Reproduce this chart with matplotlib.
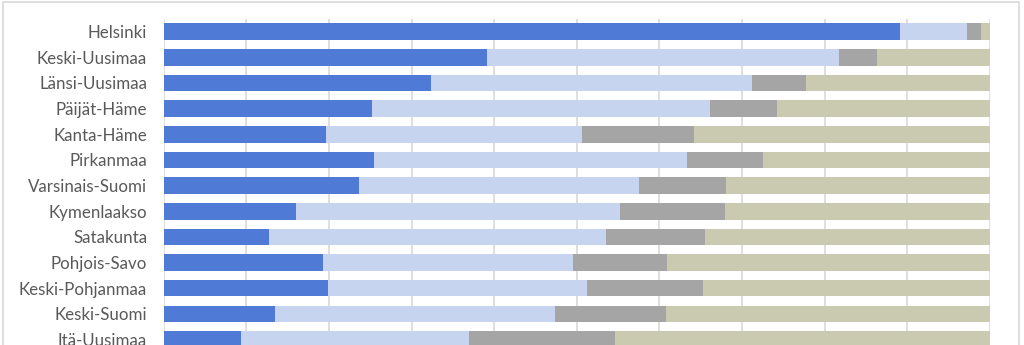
import numpy as np
import matplotlib.pyplot as plt
from matplotlib.patches import Rectangle

regions = ['Helsinki', 'Keski-Uusimaa', 'Länsi-Uusimaa', 'Päijät-Häme', 'Kanta-Häme',
           'Pirkanmaa', 'Varsinais-Suomi', 'Kymenlaakso', 'Satakunta', 'Pohjois-Savo',
           'Keski-Pohjanmaa', 'Keski-Suomi', 'Itä-Uusimaa']

# shares in percent, four stacked parts per region
part1 = [89.1, 39.1, 32.4, 25.2, 19.6, 25.4, 23.6, 16.0, 12.7, 19.3, 19.9, 13.5, 9.4]
part2 = [8.2, 42.7, 38.8, 40.9, 31.0, 38.0, 34.0, 39.2, 40.8, 30.2, 31.4, 33.9, 27.6]
part3 = [1.6, 4.5, 6.5, 8.2, 13.6, 9.2, 10.5, 12.8, 12.0, 11.4, 14.0, 13.4, 17.6]
part4 = [1.1, 13.7, 22.3, 25.7, 35.8, 27.4, 31.9, 32.0, 34.5, 39.1, 34.7, 39.2, 45.4]

colors = ['#4f7ad6', '#c6d4f0', '#a5a5a5', '#cacab0']

fig = plt.figure(figsize=(10.24, 3.45), dpi=100)
ax = fig.add_axes([163.7 / 1024, 0, (989.7 - 163.7) / 1024, 1 - 19 / 345])

y = np.arange(len(regions))
left = np.zeros(len(regions))
for vals, c in zip([part1, part2, part3, part4], colors):
    ax.barh(y, vals, left=left, height=0.645, color=c, zorder=3)
    left += np.array(vals)

ax.set_xlim(0, 100)
ax.set_ylim(12.215, -0.495)
ax.set_xticks(np.arange(0, 101, 10))
ax.xaxis.grid(True, color='#d9d9d9', linewidth=1.2, zorder=0)
ax.tick_params(axis='x', length=0, labelbottom=False)
ax.set_yticks(y)
ax.set_yticklabels(regions, family=['Lato', 'DejaVu Sans'], fontsize=12.2, color='#595959')
ax.tick_params(axis='y', length=0, pad=12)
for s in ax.spines.values():
    s.set_visible(False)

fig.patches.append(Rectangle((2.5 / 1024, -0.05), (1019 - 2.5) / 1024, 1.05 - 1.5 / 345,
                             transform=fig.transFigure, fill=False,
                             edgecolor='#d9d9d9', linewidth=1.2))

fig.savefig('out.png', dpi=100)
